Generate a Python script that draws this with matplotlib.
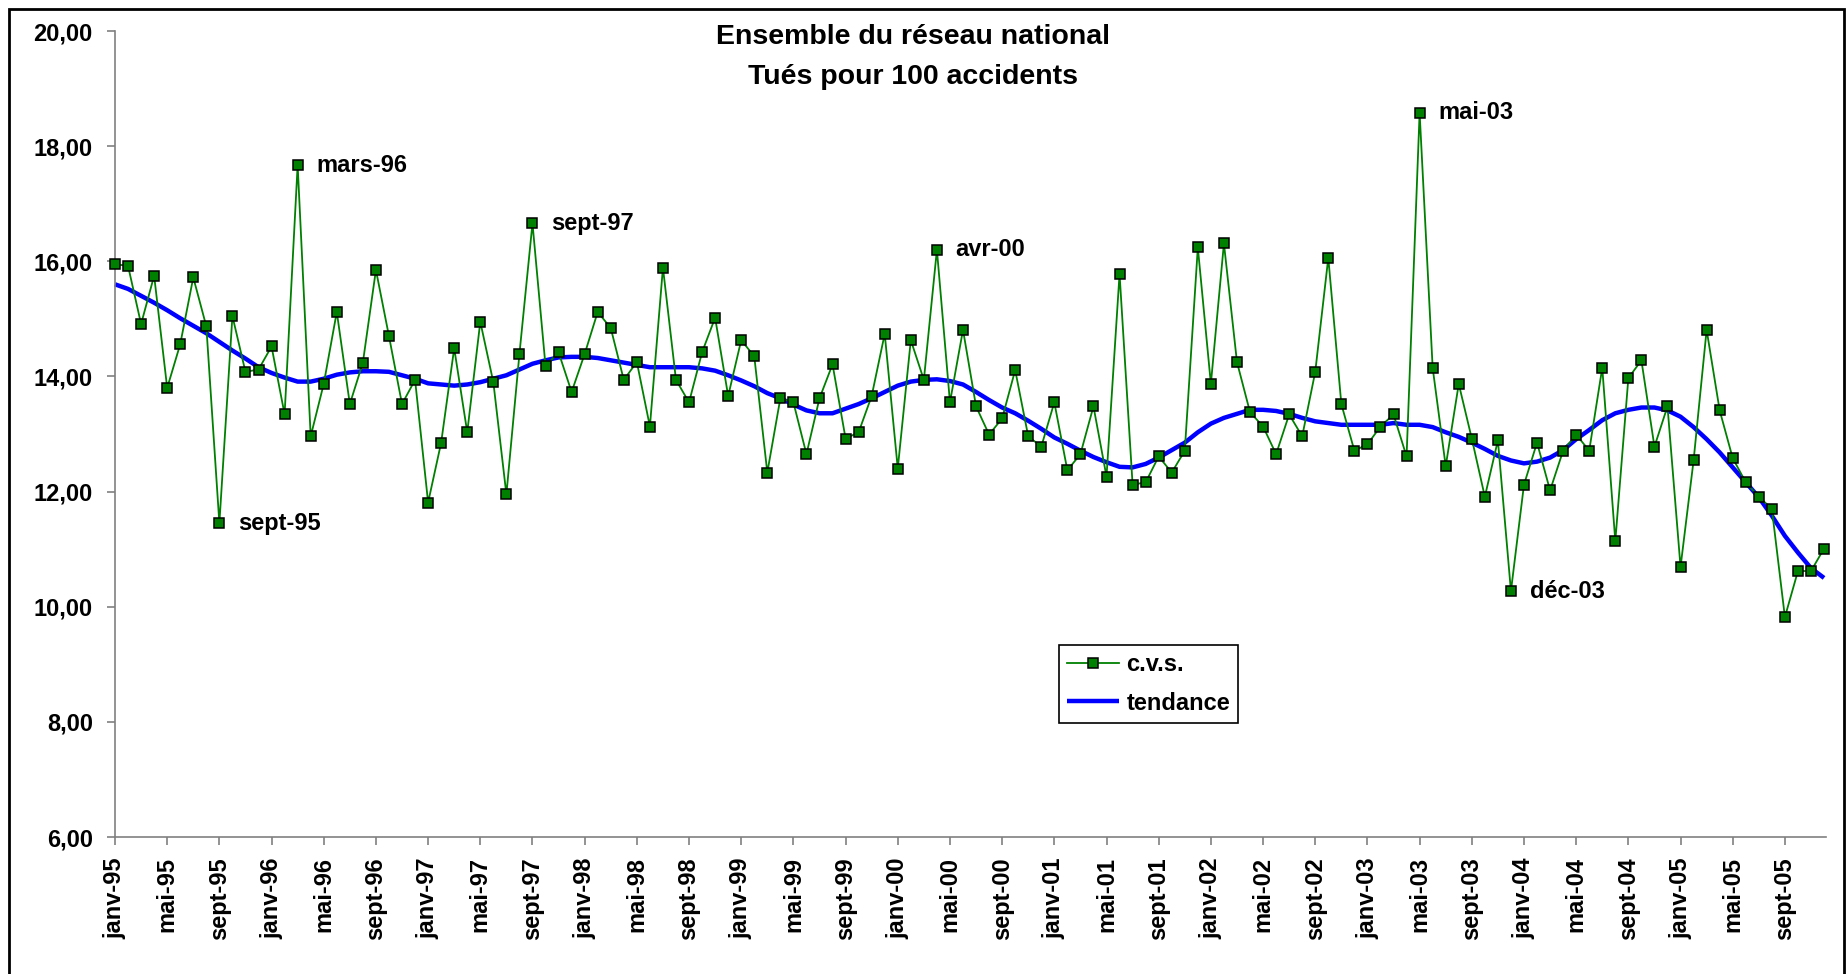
import matplotlib
matplotlib.use("Agg")
import matplotlib.pyplot as plt
from matplotlib.patches import Rectangle

plt.rcParams['font.family'] = ['Liberation Sans', 'DejaVu Sans']
plt.rcParams['font.weight'] = 'bold'

# donnees mensuelles janv-95 .. dec-05
cvs = [
    15.95, 15.92, 14.91, 15.75, 13.80, 14.56, 15.72, 14.87, 11.45, 15.05, 14.08, 14.12,
    14.52, 13.34, 17.67, 12.96, 13.87, 15.12, 13.52, 14.24, 15.85, 14.70, 13.52, 13.94,
    11.81, 12.85, 14.49, 13.03, 14.95, 13.90, 11.95, 14.39, 16.66, 14.18, 14.42, 13.73,
    14.39, 15.12, 14.84, 13.94, 14.25, 13.13, 15.89, 13.94, 13.55, 14.42, 15.02, 13.66,
    14.63, 14.35, 12.33, 13.62, 13.55, 12.65, 13.62, 14.21, 12.92, 13.03, 13.66, 14.74,
    12.40, 14.63, 13.94, 16.20, 13.55, 14.81, 13.48, 12.99, 13.27, 14.11, 12.96, 12.78,
    13.55, 12.37, 12.65, 13.48, 12.26, 15.78, 12.12, 12.16, 12.61, 12.33, 12.71, 16.24,
    13.87, 16.31, 14.25, 13.38, 13.13, 12.65, 13.34, 12.96, 14.08, 16.06, 13.52, 12.71,
    12.82, 13.13, 13.34, 12.61, 18.58, 14.15, 12.44, 13.87, 12.92, 11.91, 12.89, 10.27,
    12.12, 12.85, 12.02, 12.71, 12.99, 12.71, 14.15, 11.14, 13.97, 14.28, 12.78, 13.48,
    10.69, 12.54, 14.81, 13.41, 12.58, 12.16, 11.91, 11.70, 9.82, 10.62, 10.62, 11.01,
]

tendance = [
    15.60, 15.52, 15.40, 15.28, 15.15, 15.01, 14.88, 14.75, 14.60, 14.45, 14.31, 14.16,
    14.06, 13.98, 13.91, 13.91, 13.96, 14.03, 14.07, 14.09, 14.09, 14.08, 14.02, 13.96,
    13.88, 13.86, 13.84, 13.86, 13.90, 13.96, 14.02, 14.12, 14.22, 14.28, 14.33, 14.34,
    14.34, 14.32, 14.28, 14.24, 14.20, 14.16, 14.16, 14.16, 14.16, 14.14, 14.10, 14.02,
    13.93, 13.83, 13.71, 13.62, 13.51, 13.41, 13.36, 13.36, 13.44, 13.52, 13.62, 13.73,
    13.84, 13.91, 13.94, 13.95, 13.92, 13.86, 13.73, 13.59, 13.46, 13.36, 13.23, 13.09,
    12.94, 12.83, 12.71, 12.60, 12.51, 12.43, 12.42, 12.48, 12.59, 12.72, 12.85, 13.03,
    13.18, 13.28, 13.35, 13.42, 13.42, 13.40, 13.35, 13.28, 13.22, 13.19, 13.16, 13.16,
    13.16, 13.16, 13.19, 13.16, 13.16, 13.12, 13.03, 12.95, 12.85, 12.74, 12.62, 12.54,
    12.49, 12.52, 12.59, 12.72, 12.91, 13.07, 13.24, 13.36, 13.42, 13.46, 13.46, 13.41,
    13.30, 13.12, 12.91, 12.68, 12.42, 12.16, 11.90, 11.58, 11.23, 10.94, 10.67, 10.50,
]

x_labels = [
    'janv-95', 'mai-95', 'sept-95', 'janv-96', 'mai-96', 'sept-96',
    'janv-97', 'mai-97', 'sept-97', 'janv-98', 'mai-98', 'sept-98',
    'janv-99', 'mai-99', 'sept-99', 'janv-00', 'mai-00', 'sept-00',
    'janv-01', 'mai-01', 'sept-01', 'janv-02', 'mai-02', 'sept-02',
    'janv-03', 'mai-03', 'sept-03', 'janv-04', 'mai-04', 'sept-04',
    'janv-05', 'mai-05', 'sept-05',
]
y_ticks = [6, 8, 10, 12, 14, 16, 18, 20]
y_labels = ['6,00', '8,00', '10,00', '12,00', '14,00', '16,00', '18,00', '20,00']

# points remarquables (indice du mois, texte)
notes = [(8, 'sept-95'), (14, 'mars-96'), (32, 'sept-97'),
         (63, 'avr-00'), (100, 'mai-03'), (107, 'déc-03')]

W, H = 1847, 974
fig = plt.figure(figsize=(W / 100, H / 100), dpi=100)
ax = fig.add_axes([115 / W, 1 - 837 / H, (1826 - 115) / W, (837 - 31) / H])

mois = list(range(len(cvs)))
ax.plot(mois, tendance, color='#0000ff', lw=3.2, label='tendance', zorder=2,
        solid_capstyle='butt', clip_on=False)
ax.plot(mois, cvs, color='#008000', lw=1.3, marker='s', markersize=7,
        markerfacecolor='#008000', markeredgecolor='black', markeredgewidth=1.1,
        label='c.v.s.', zorder=3, clip_on=False)

for m, txt in notes:
    ax.annotate(txt, xy=(m, cvs[m]), xytext=(13.5, 0), textcoords='offset points',
                ha='left', va='center', fontsize=17, fontweight='bold')

ax.set_xlim(0, 131.15)
ax.set_ylim(6, 20)
ax.set_xticks(range(0, len(cvs), 4))
ax.set_xticklabels(x_labels, rotation=90, fontsize=17, fontweight='bold')
ax.set_yticks(y_ticks)
ax.set_yticklabels(y_labels, fontsize=17, fontweight='bold')

for s in ['top', 'right']:
    ax.spines[s].set_visible(False)
for s in ['left', 'bottom']:
    ax.spines[s].set_color('#808080')
    ax.spines[s].set_linewidth(1.2)
ax.tick_params(axis='both', direction='out', length=6, width=1.2, color='#808080')
ax.tick_params(axis='y', pad=10)
ax.tick_params(axis='x', pad=8.5)

h, l = ax.get_legend_handles_labels()
leg = ax.legend([h[1], h[0]], [l[1], l[0]], loc='upper left',
                bbox_to_anchor=(1059 / W, 1 - 645 / H), bbox_transform=fig.transFigure,
                borderaxespad=0, fancybox=False, framealpha=1, edgecolor='black',
                handlelength=2.2, handletextpad=0.3, labelspacing=0.65,
                borderpad=0.35, prop={'size': 17, 'weight': 'bold'})
leg.get_frame().set_linewidth(1.2)

fig.text(913 / W, 1 - 44.5 / H, 'Ensemble du réseau national', ha='center',
         va='baseline', fontsize=20.5, fontweight='bold')
fig.text(913 / W, 1 - 84 / H, 'Tués pour 100 accidents', ha='center',
         va='baseline', fontsize=20.5, fontweight='bold')

fig.patches.append(Rectangle((9 / W, -0.02), (1844 - 9) / W, 1 - 9 / H + 0.02,
                             transform=fig.transFigure, fill=False,
                             edgecolor='black', lw=2))

fig.savefig('out.png', dpi=100)
